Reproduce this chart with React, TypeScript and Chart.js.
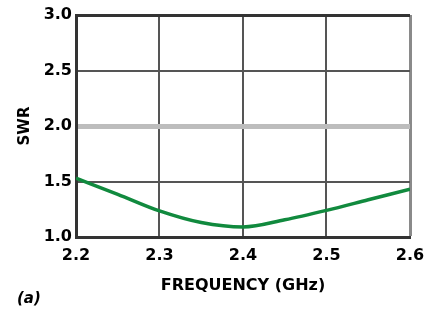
import React, { useEffect, useRef } from "react";
import { Chart, registerables } from "chart.js";

Chart.register(...registerables);

const frequencies = [2.2, 2.25, 2.3, 2.35, 2.4, 2.45, 2.5, 2.55, 2.6];
const swrValues = [1.53, 1.385, 1.235, 1.13, 1.09, 1.155, 1.24, 1.335, 1.43];
const xTicks = [2.2, 2.3, 2.4, 2.5, 2.6];
const yTicks = [1.0, 1.5, 2.0, 2.5, 3.0];

const FONT = "'DejaVu Sans', sans-serif";

export default function App() {
  const ref = useRef<HTMLCanvasElement | null>(null);

  useEffect(() => {
    document.body.style.margin = "0";
    const canvas = ref.current;
    if (!canvas) return;
    const chart = new Chart(canvas, {
      type: "line",
      data: {
        datasets: [
          {
            data: frequencies.map((f, i) => ({ x: f, y: swrValues[i] })),
            borderColor: "#118a3e",
            borderWidth: 3.5,
            pointRadius: 0,
            cubicInterpolationMode: "monotone",
            fill: false,
          },
        ],
      },
      options: {
        animation: false,
        responsive: false,
        maintainAspectRatio: false,
        layout: { padding: { top: 15, right: 26, left: 0, bottom: 0 } },
        plugins: { legend: { display: false }, tooltip: { enabled: false } },
        scales: {
          x: {
            type: "linear",
            min: 2.2,
            max: 2.6,
            afterBuildTicks: (s: any) => {
              s.ticks = xTicks.map((v) => ({ value: v }));
            },
            afterFit: (s: any) => {
              s.height = 72;
            },
            ticks: {
              padding: 9,
              color: "#000",
              font: { family: FONT, size: 16, weight: "bold" },
              callback: (v: any) => Number(v).toFixed(1),
              maxRotation: 0,
            },
            grid: {
              drawTicks: false,
              color: (c: any) => (c.tick && c.tick.value === 2.6 ? "#8a8a8a" : "#555"),
              lineWidth: (c: any) => (c.tick && c.tick.value === 2.6 ? 3 : 2),
            },
            border: { color: "#333", width: 3 },
            title: {
              display: true,
              text: "FREQUENCY (GHz)",
              color: "#000",
              font: { family: FONT, size: 16, weight: "bold" },
              padding: { bottom: 14, top: 0 },
            },
          },
          y: {
            type: "linear",
            min: 1,
            max: 3,
            afterBuildTicks: (s: any) => {
              s.ticks = yTicks.map((v) => ({ value: v }));
            },
            afterFit: (s: any) => {
              s.width = 76;
            },
            ticks: {
              padding: 4,
              color: "#000",
              font: { family: FONT, size: 16, weight: "bold" },
              callback: (v: any) => Number(v).toFixed(1),
            },
            grid: {
              drawTicks: false,
              color: (c: any) =>
                c.tick && c.tick.value === 2 ? "#bdbdbd" : c.tick && c.tick.value === 3 ? "#333" : "#555",
              lineWidth: (c: any) =>
                c.tick && c.tick.value === 2 ? 5 : c.tick && c.tick.value === 3 ? 3 : 2,
            },
            border: { color: "#333", width: 3 },
            title: {
              display: true,
              text: "SWR",
              color: "#000",
              font: { family: FONT, size: 15, weight: "bold" },
              padding: { top: 16, bottom: 0 },
            },
          },
        },
      },
    });
    return () => chart.destroy();
  }, []);

  return (
    <div style={{ position: "relative", width: 436, height: 309, background: "#fff" }}>
      <canvas ref={ref} width={436} height={309} style={{ display: "block" }} />
      <div
        style={{
          position: "absolute",
          left: 17,
          top: 289,
          fontFamily: FONT,
          fontWeight: "bold",
          fontStyle: "italic",
          fontSize: 15,
          color: "#000",
          lineHeight: "18px",
        }}
      >
        (a)
      </div>
    </div>
  );
}
